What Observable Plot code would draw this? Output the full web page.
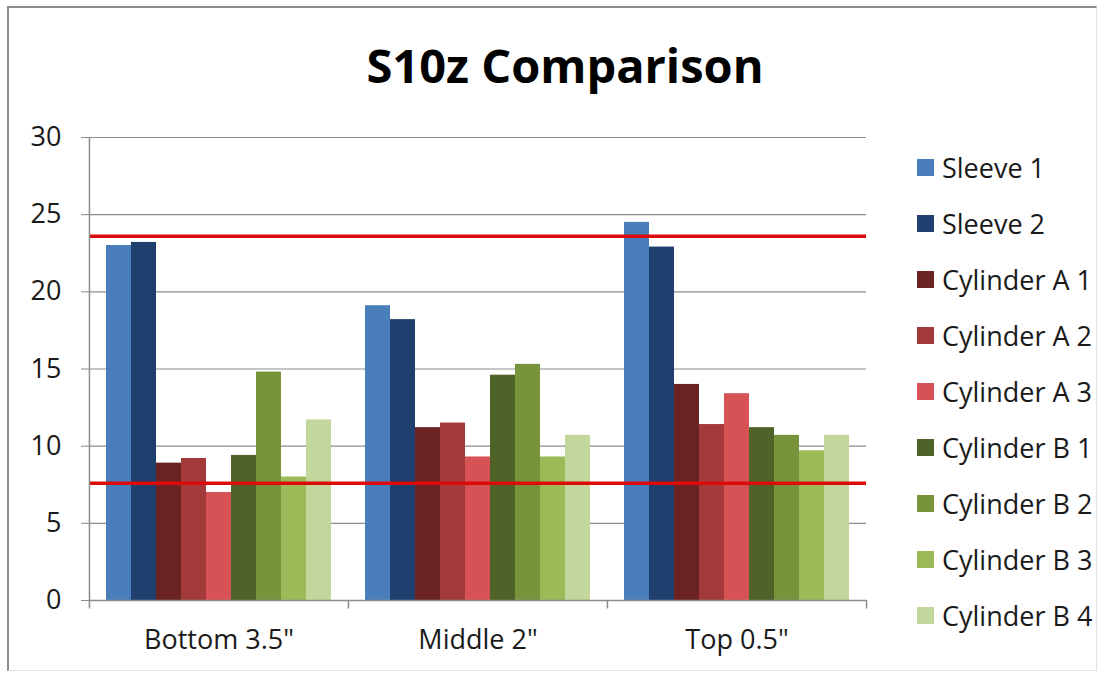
<!DOCTYPE html>
<html>
<head>
<meta charset="utf-8">
<script src="https://cdn.jsdelivr.net/npm/d3@7"></script>
<script src="https://cdn.jsdelivr.net/npm/@observablehq/plot@0.6"></script>
<style>
  html, body { margin: 0; padding: 0; background: #fff; }
  #wrap { position: relative; width: 1117px; height: 675px; overflow: hidden; font-family: "Open Sans", sans-serif; color: #1a1a1a; }
  #border { position: absolute; left: 7px; top: 6px; width: 1090px; height: 665px; border-top: 2px solid #8c8c8c; border-left: 2px solid #8c8c8c; border-right: 1px solid #e2e2e2; border-bottom: 1px solid #e2e2e2; box-sizing: border-box; }
  #title { position: absolute; left: 0; width: 1130px; top: 33px; text-align: center; font-size: 47px; font-weight: 700; color: #000; }
  #chart { position: absolute; left: 0; top: 0; }
  #legend { position: absolute; left: 917px; top: 139px; }
  .item { display: flex; align-items: center; height: 56px; font-size: 27px; color: #1a1a1a; }
  .sw { width: 17px; height: 17px; margin-right: 8px; }
  svg [aria-label^="y-axis"] line, svg [aria-label^="y-axis"] path { stroke: #8c8c8c; }
</style>
</head>
<body>
<div id="wrap">
  <div id="border"></div>
  <div id="title">S10z Comparison</div>
  <div id="chart"></div>
  <div id="legend"></div>
</div>
<script>
const categories = ["Bottom 3.5\"", "Middle 2\"", "Top 0.5\""];
const seriesNames = ["Sleeve 1", "Sleeve 2", "Cylinder A 1", "Cylinder A 2", "Cylinder A 3", "Cylinder B 1", "Cylinder B 2", "Cylinder B 3", "Cylinder B 4"];
const seriesColors = ["#4a7ebb", "#1f3f6e", "#6b2222", "#a33a3a", "#d65254", "#4f6228", "#77933c", "#9bbb59", "#c3d69b"];
// values per series: [Bottom, Middle, Top]
const sleeve1 = [23.0, 19.1, 24.5];
const sleeve2 = [23.2, 18.2, 22.9];
const cylA1 = [8.9, 11.2, 14.0];
const cylA2 = [9.2, 11.5, 11.4];
const cylA3 = [7.0, 9.3, 13.4];
const cylB1 = [9.4, 14.6, 11.2];
const cylB2 = [14.8, 15.3, 10.7];
const cylB3 = [8.0, 9.3, 9.7];
const cylB4 = [11.7, 10.7, 10.7];
const limits = [23.6, 7.6];
const yTicks = [0, 5, 10, 15, 20, 25, 30];

const seriesValues = [sleeve1, sleeve2, cylA1, cylA2, cylA3, cylB1, cylB2, cylB3, cylB4];
const data = [];
categories.forEach((c, ci) => seriesNames.forEach((s, si) => data.push({cat: c, series: s, value: seriesValues[si][ci]})));

const W = 1117, H = 675;
const mL = 88, mR = 251, mT = 137, mB = 75;
const padOuter = 0.68;
const facetW = (W - mL - mR) / categories.length;
const step = facetW / (seriesNames.length + 2 * padOuter);
const edge = step / 2 + padOuter * step; // from center of first/last band to facet edge

const chart = Plot.plot({
  width: W,
  height: H,
  marginLeft: mL,
  marginRight: mR,
  marginTop: mT,
  marginBottom: mB,
  style: {fontFamily: "'Open Sans', sans-serif", fontSize: "27px", color: "#1a1a1a", background: "transparent"},
  fx: {domain: categories, padding: 0, label: null, tickSize: 0, tickPadding: 29, axis: "bottom"},
  x: {domain: seriesNames, paddingInner: 0, paddingOuter: padOuter, axis: null},
  y: {domain: [0, 30], ticks: yTicks, tickSize: 8, tickPadding: 20, label: null},
  color: {domain: seriesNames, range: seriesColors},
  marks: [
    Plot.ruleY(yTicks.filter(d => d > 0), {stroke: "#8c8c8c", strokeWidth: 1.2}),
    Plot.barY(data, {fx: "cat", x: "series", y: "value", fill: "series"}),
    Plot.ruleY([0], {stroke: "#8c8c8c", strokeWidth: 1.5}),
    Plot.ruleY(limits, {stroke: "#dd0a0a", strokeWidth: 3.5}),
    // left axis line (first facet only)
    Plot.ruleX([{cat: categories[0]}], {fx: "cat", x: () => seriesNames[0], y1: 0, y2: 30, dx: -edge, stroke: "#8c8c8c", strokeWidth: 1.5}),
    // category boundary tick marks
    Plot.ruleX(categories.map(c => ({cat: c})), {fx: "cat", x: () => seriesNames[0], y1: 0, y2: -0.55, dx: -edge, stroke: "#8c8c8c", strokeWidth: 1.5}),
    Plot.ruleX([{cat: categories[categories.length - 1]}], {fx: "cat", x: () => seriesNames[seriesNames.length - 1], y1: 0, y2: -0.55, dx: edge, stroke: "#8c8c8c", strokeWidth: 1.5})
  ]
});
document.getElementById("chart").appendChild(chart);

const legend = document.getElementById("legend");
seriesNames.forEach((s, i) => {
  const row = document.createElement("div");
  row.className = "item";
  const sw = document.createElement("div");
  sw.className = "sw";
  sw.style.background = seriesColors[i];
  const t = document.createElement("span");
  t.textContent = s;
  row.appendChild(sw);
  row.appendChild(t);
  legend.appendChild(row);
});
</script>
</body>
</html>
